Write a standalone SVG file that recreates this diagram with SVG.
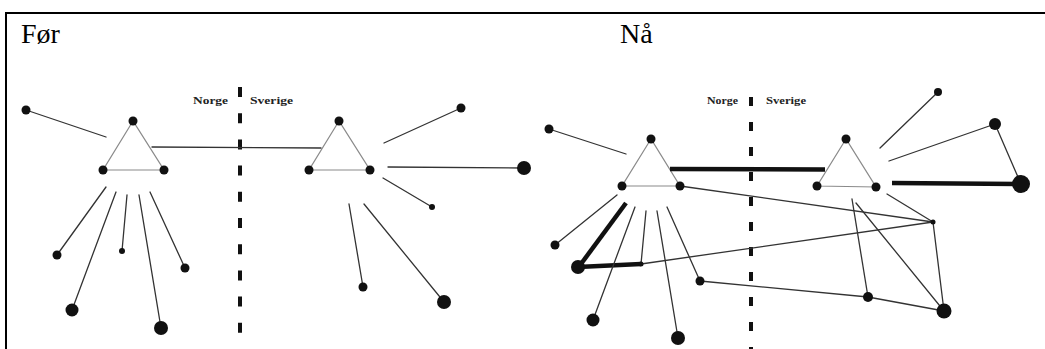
<svg xmlns="http://www.w3.org/2000/svg" width="1045" height="349" viewBox="0 0 1045 349">
<style>
.frame{stroke:#000;stroke-width:2;fill:none}
.title{font-family:"Liberation Serif",serif;font-size:28px;fill:#000}
.lbl{font-family:"Liberation Serif",serif;font-size:11px;font-weight:bold;fill:#222}
.border{stroke:#111;stroke-width:4}
.e{stroke:#333;stroke-width:1.3;fill:none;stroke-linecap:round}
.tri{stroke:#8a8a8a;stroke-width:1.2;fill:none}
.thick{stroke:#111;stroke-width:4.5;fill:none}
.n{fill:#111}
</style>
<rect width="1045" height="349" fill="#fff"/>
<line class="frame" x1="5" y1="13" x2="1045" y2="13"/>
<line class="frame" x1="6" y1="12" x2="6" y2="349"/>
<text class="title" x="21" y="43">Før</text>
<text class="title" x="620" y="43">Nå</text>

<!-- border lines -->
<line class="border" x1="240" y1="87" x2="240" y2="349" stroke-dasharray="10 16.2"/>
<line class="border" x1="751" y1="97" x2="751" y2="349" stroke-dasharray="9 16"/>
<text class="lbl" x="193" y="104" textLength="35" lengthAdjust="spacingAndGlyphs">Norge</text>
<text class="lbl" x="250" y="104" textLength="43" lengthAdjust="spacingAndGlyphs">Sverige</text>
<text class="lbl" x="707" y="104" textLength="31" lengthAdjust="spacingAndGlyphs">Norge</text>
<text class="lbl" x="766" y="104" textLength="40" lengthAdjust="spacingAndGlyphs">Sverige</text>

<g id="connectors">
<!-- Før -->
<polygon class="tri" points="133,121 103,170 164,170"/>
<polygon class="tri" points="339,121 309,170 370,170"/>
<line class="e" x1="26" y1="110" x2="106" y2="137"/>
<line class="e" x1="152" y1="147" x2="321" y2="148"/>
<line class="e" x1="106" y1="187" x2="57" y2="255"/>
<line class="e" x1="116" y1="192" x2="72" y2="310"/>
<line class="e" x1="127" y1="195" x2="122" y2="251"/>
<line class="e" x1="139" y1="195" x2="161" y2="328"/>
<line class="e" x1="150" y1="192" x2="185" y2="268"/>
<line class="e" x1="384" y1="143" x2="461" y2="108"/>
<line class="e" x1="388" y1="167" x2="522" y2="168"/>
<line class="e" x1="383" y1="178" x2="432" y2="207"/>
<line class="e" x1="349" y1="204" x2="363" y2="287"/>
<line class="e" x1="364" y1="204" x2="444" y2="302"/>
<!-- Nå -->
<polygon class="tri" points="651,139 622,186 680,186"/>
<polygon class="tri" points="846,139 817,186 876,187"/>
<line class="e" x1="549" y1="129" x2="626" y2="154"/>
<line class="thick" x1="670" y1="169" x2="825" y2="169.5"/>
<line class="e" x1="880" y1="148" x2="938" y2="92"/>
<line class="e" x1="889" y1="161" x2="995" y2="124"/>
<line class="e" x1="995" y1="124" x2="1021" y2="184"/>
<line class="thick" x1="892" y1="183" x2="1021" y2="184"/>
<line class="e" x1="680" y1="186" x2="933" y2="222"/>
<line class="e" x1="887" y1="194" x2="933" y2="222"/>
<line class="e" x1="933" y1="222" x2="641" y2="264"/>
<line class="e" x1="933" y1="222" x2="944" y2="311"/>
<line class="e" x1="852" y1="199" x2="868" y2="297"/>
<line class="e" x1="856" y1="203" x2="944" y2="311"/>
<line class="e" x1="868" y1="297" x2="944" y2="311"/>
<line class="e" x1="700" y1="281" x2="868" y2="297"/>
<line class="e" x1="617" y1="195" x2="555" y2="245"/>
<line class="thick" x1="626" y1="203" x2="578" y2="268" stroke-width="4"/>
<line class="thick" x1="578" y1="267" x2="641" y2="264" stroke-width="3.2"/>
<line class="e" x1="635" y1="207" x2="593" y2="320"/>
<line class="e" x1="646" y1="211" x2="641" y2="264"/>
<line class="e" x1="657" y1="211" x2="678" y2="338"/>
<line class="e" x1="667" y1="207" x2="700" y2="281"/>
</g>

<!-- Før nodes -->
<g id="f-n1"><circle class="n" cx="26" cy="110" r="4.5"/></g>
<g id="f-t1a"><circle class="n" cx="133" cy="121" r="4.5"/></g>
<g id="f-t1b"><circle class="n" cx="103" cy="170" r="4.5"/></g>
<g id="f-t1c"><circle class="n" cx="164" cy="170" r="4.5"/></g>
<g id="f-t2a"><circle class="n" cx="339" cy="121" r="4.5"/></g>
<g id="f-t2b"><circle class="n" cx="309" cy="170" r="4.5"/></g>
<g id="f-t2c"><circle class="n" cx="370" cy="170" r="4.5"/></g>
<g id="f-n2"><circle class="n" cx="57" cy="255" r="4.5"/></g>
<g id="f-n3"><circle class="n" cx="72" cy="310" r="6.5"/></g>
<g id="f-n4"><circle class="n" cx="122" cy="251" r="3"/></g>
<g id="f-n5"><circle class="n" cx="161" cy="328" r="7"/></g>
<g id="f-n6"><circle class="n" cx="185" cy="268" r="4.5"/></g>
<g id="f-n7"><circle class="n" cx="461" cy="108" r="4.5"/></g>
<g id="f-n8"><circle class="n" cx="524" cy="168" r="7"/></g>
<g id="f-n9"><circle class="n" cx="432" cy="207" r="3"/></g>
<g id="f-n10"><circle class="n" cx="363" cy="287" r="4.5"/></g>
<g id="f-n11"><circle class="n" cx="444" cy="302" r="7"/></g>

<!-- Nå nodes -->
<g id="n-n1"><circle class="n" cx="549" cy="129" r="4.5"/></g>
<g id="n-t1a"><circle class="n" cx="651" cy="139" r="4.5"/></g>
<g id="n-t1b"><circle class="n" cx="622" cy="186" r="4.5"/></g>
<g id="n-t1c"><circle class="n" cx="680" cy="186" r="4.5"/></g>
<g id="n-t2a"><circle class="n" cx="846" cy="139" r="4.5"/></g>
<g id="n-t2b"><circle class="n" cx="817" cy="186" r="4.5"/></g>
<g id="n-t2c"><circle class="n" cx="876" cy="187" r="4.5"/></g>
<g id="n-n2"><circle class="n" cx="938" cy="92" r="4"/></g>
<g id="n-n3"><circle class="n" cx="995" cy="124" r="6"/></g>
<g id="n-n4"><circle class="n" cx="1021" cy="184" r="9"/></g>
<g id="n-n5"><circle class="n" cx="933" cy="222" r="2.5"/></g>
<g id="n-n6"><circle class="n" cx="868" cy="297" r="5"/></g>
<g id="n-n7"><circle class="n" cx="944" cy="311" r="7.5"/></g>
<g id="n-n8"><circle class="n" cx="700" cy="281" r="4.5"/></g>
<g id="n-n9"><circle class="n" cx="555" cy="245" r="4.5"/></g>
<g id="n-n10"><circle class="n" cx="578" cy="267" r="7"/></g>
<g id="n-n11"><circle class="n" cx="641" cy="264" r="2.5"/></g>
<g id="n-n12"><circle class="n" cx="593" cy="320" r="6.5"/></g>
<g id="n-n13"><circle class="n" cx="678" cy="338" r="7"/></g>
</svg>
